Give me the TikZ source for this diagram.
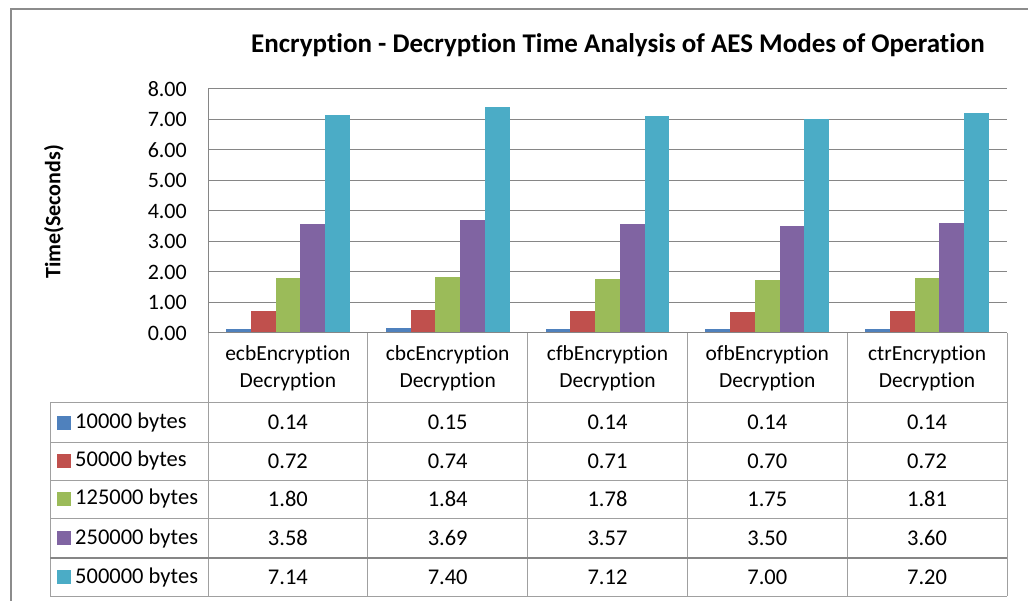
\documentclass[tikz,border=0pt]{standalone}
\usepackage{fontspec}
\setmainfont{Carlito}[Ligatures=NoCommon]
\definecolor{sA}{HTML}{4F81BD}
\definecolor{sB}{HTML}{C0504D}
\definecolor{sC}{HTML}{9BBB59}
\definecolor{sD}{HTML}{8064A2}
\definecolor{sE}{HTML}{4BACC6}
\definecolor{gridgray}{HTML}{868686}
\definecolor{framegray}{HTML}{8C8C8C}
\definecolor{tablegray}{HTML}{A0A0A0}
\begin{document}
\begin{tikzpicture}[x=1pt,y=-1pt,
  gridline/.style={draw=gridgray,line width=1pt},
  tabline/.style={draw=tablegray,line width=1pt},
  ticklab/.style={anchor=east,inner sep=0pt,font=\fontsize{22}{24}\selectfont},
  cathead/.style={align=center,inner sep=0pt,font=\fontsize{21.5}{27}\selectfont},
  cellval/.style={inner sep=0pt,font=\fontsize{22.5}{24}\selectfont},
  legendlab/.style={anchor=west,inner sep=0pt,font=\fontsize{22.5}{24}\selectfont},
  barfill/.style={fill=#1}]
\useasboundingbox (0,0) rectangle (1028,601);
\fill[white] (0,0) rectangle (1028,601);

% chart frame (left and top edges)
\draw[framegray,line width=2pt] (11,601) -- (11,9) -- (1028,9);

% title
\node[font=\fontsize{27}{30}\selectfont\bfseries] (title) at (618,45)
  {Encryption - Decryption Time Analysis of AES Modes of Operation};

% y-axis title
\node[rotate=90,font=\fontsize{22}{24}\selectfont\bfseries] (ytitle) at (54,212) {Time(Seconds)};

% horizontal grid lines and tick labels
\foreach \k in {1,...,8} {
  \draw[gridline] (208,{333-\k*30.5}) -- (1007,{333-\k*30.5});
}
\foreach \k in {0,...,8} {
  \node[ticklab] (tick\k) at (187,{333-\k*30.5}) {\k.00};
}

% bars
\foreach \col/\row [count=\j from 0] in {
  sA/{0.14,0.15,0.14,0.14,0.14},
  sB/{0.72,0.74,0.71,0.70,0.72},
  sC/{1.80,1.84,1.78,1.75,1.81},
  sD/{3.58,3.69,3.57,3.50,3.60},
  sE/{7.14,7.40,7.12,7.00,7.20}} {
  \foreach \v [count=\i from 0] in \row {
    \pgfmathsetmacro\bx{208+\i*159.8+18+\j*24.76}
    \fill[barfill=\col] (\bx,333) rectangle ({\bx+24.76},{333-\v*30.5});
  }
}

% axis lines
\draw[gridline] (208,333) -- (1007,333);
\draw[gridline] (208,89) -- (208,333);

% data table grid
\foreach \k in {0,...,5} {
  \draw[tabline] ({208+\k*159.8},333) -- ({208+\k*159.8},596);
}
\draw[tabline] (50,403) -- (50,596);
\foreach \yy in {403,442,480,518,596} {
  \draw[tabline] (50,\yy) -- (1007,\yy);
}
\draw[draw=gridgray,line width=2pt] (50,558) -- (1007,558);

% category headers
\foreach \m [count=\i from 0] in {ecb,cbc,cfb,ofb,ctr} {
  \node[cathead] (head\i) at ({208+\i*159.8+79.9},368.5) {\m Encryption\\Decryption};
}

% table rows: legend key, label and values
\foreach \col/\lab/\row/\yc [count=\j from 0] in {
  sA/10000 bytes/{0.14,0.15,0.14,0.14,0.14}/422.5,
  sB/50000 bytes/{0.72,0.74,0.71,0.70,0.72}/461,
  sC/125000 bytes/{1.80,1.84,1.78,1.75,1.81}/499,
  sD/250000 bytes/{3.58,3.69,3.57,3.50,3.60}/538,
  sE/500000 bytes/{7.14,7.40,7.12,7.00,7.20}/577} {
  \fill[\col] (57,{\yc-7}) rectangle (71,{\yc+7});
  \node[legendlab] (lab\j) at (75,\yc) {\lab};
  \foreach \v [count=\i from 0] in \row {
    \node[cellval] (val\j-\i) at ({208+\i*159.8+79.9},\yc) {\v};
  }
}
\end{tikzpicture}
\end{document}
